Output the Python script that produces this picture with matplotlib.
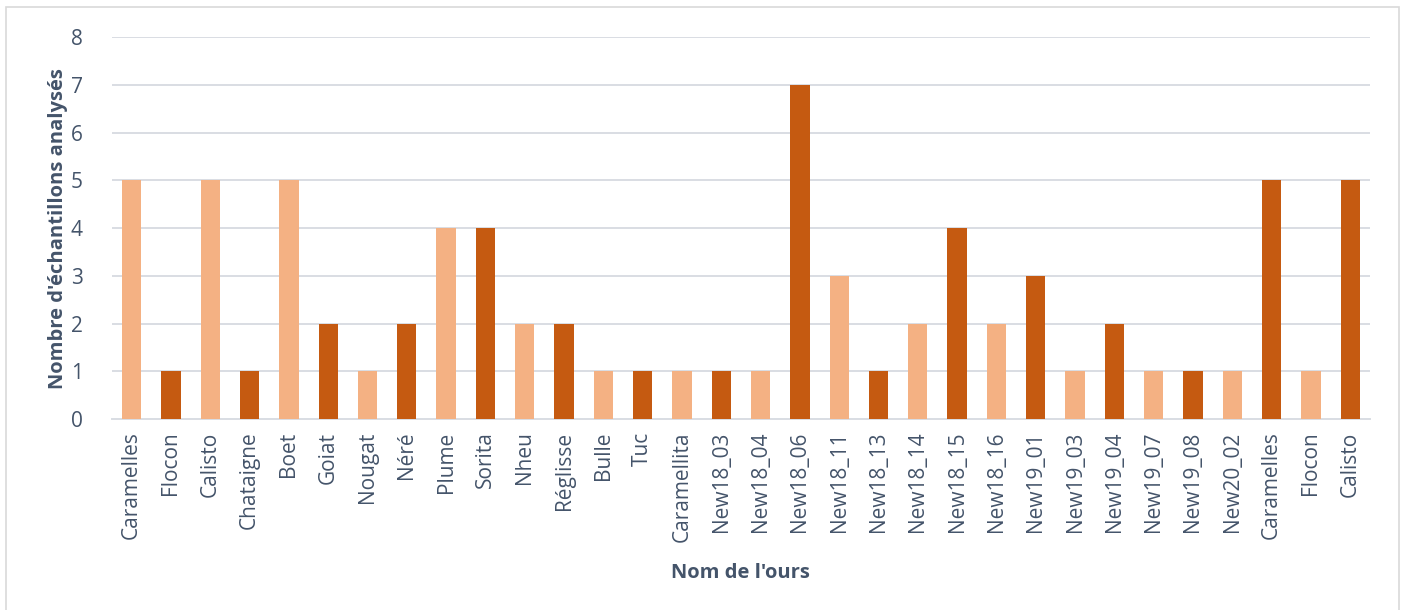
import matplotlib
matplotlib.use("Agg")
import matplotlib.pyplot as plt
from matplotlib.patches import Rectangle

names = ["Caramelles", "Flocon", "Calisto", "Chataigne", "Boet", "Goiat", "Nougat", "Néré",
         "Plume", "Sorita", "Nheu", "Réglisse", "Bulle", "Tuc", "Caramellita", "New18_03",
         "New18_04", "New18_06", "New18_11", "New18_13", "New18_14", "New18_15", "New18_16",
         "New19_01", "New19_03", "New19_04", "New19_07", "New19_08", "New20_02", "Caramelles",
         "Flocon", "Calisto"]
values = [5, 1, 5, 1, 5, 2, 1, 2, 4, 4, 2, 2, 1, 1, 1, 1, 1, 7, 3, 1, 2, 4, 2, 3, 1, 2, 1, 1, 1, 5, 1, 5]
light = "#F4B183"
dark = "#C55A11"
colors = [light if i % 2 == 0 else dark for i in range(len(values))]
yticks = [0, 1, 2, 3, 4, 5, 6, 7, 8]

txt = "#44546A"
plt.rcParams['font.family'] = ['Open Sans', 'DejaVu Sans']

fig = plt.figure(figsize=(14.05, 6.1), dpi=100)
fig.patches.append(Rectangle((6/1405, -0.01), 1393/1405, 1 - 7/610 + 0.01, transform=fig.transFigure,
                             fill=False, edgecolor="#D9D9D9", linewidth=1.2))
ax = fig.add_axes([0.0797, 0.313, 0.8953, 0.626])
x = list(range(len(values)))
ax.bar(x, values, width=0.49, color=colors, zorder=3)
ax.set_xlim(-0.5, len(values) - 0.5)
ax.set_ylim(0, 8)
ax.set_yticks(yticks)
ax.set_xticks(x)
ax.set_xticklabels(names, rotation=90, fontsize=15, color=txt)
ax.tick_params(axis='y', labelsize=15, labelcolor=txt, length=0, pad=21)
ax.tick_params(axis='x', length=0, pad=9)
ax.grid(axis='y', color="#D9DDE3", linewidth=1.4, zorder=0)
for s in ["top", "right", "left"]:
    ax.spines[s].set_visible(False)
ax.spines["bottom"].set_color("#D9DDE3")
ax.spines["bottom"].set_linewidth(1.4)
ax.set_ylabel("Nombre d'échantillons analysés", fontsize=14.5, fontweight="bold", color=txt)
ax.yaxis.set_label_coords(-44/1258, 0.5)
ax.set_xlabel("Nom de l'ours", fontsize=14.5, fontweight="bold", color=txt)
ax.xaxis.set_label_coords(0.5, -(563 - 419) / 382)
fig.savefig("out.png", dpi=100)
